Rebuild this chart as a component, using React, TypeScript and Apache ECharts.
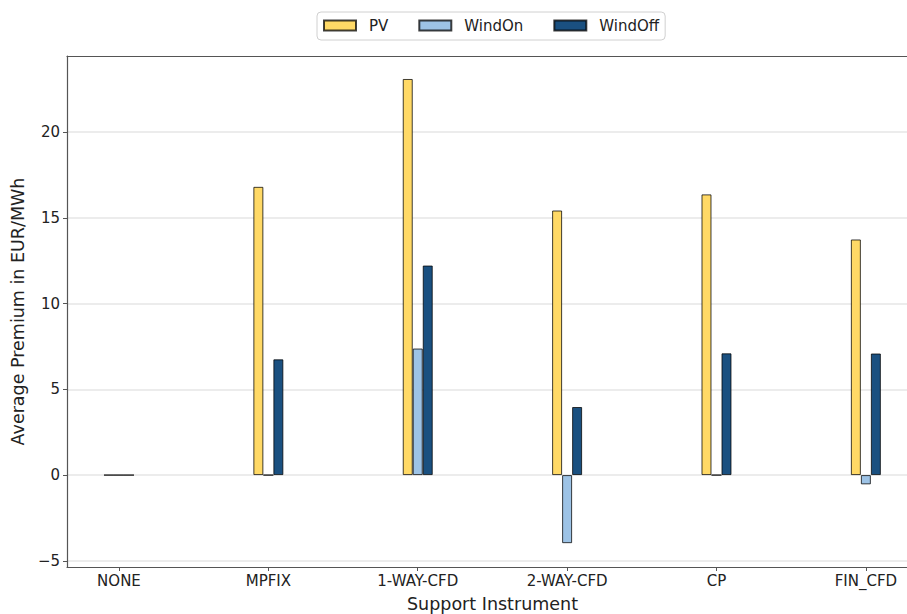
import React, { useEffect, useRef } from "react";
import * as echarts from "echarts";

// Support instruments along the x axis
const categories = ["NONE", "MPFIX", "1-WAY-CFD", "2-WAY-CFD", "CP", "FIN_CFD"];

// Average premium per technology, EUR/MWh
const pvValues = [0, 16.81, 23.1, 15.43, 16.37, 13.74];
const windOnValues = [0, 0, 7.38, -3.97, 0, -0.54];
const windOffValues = [0, 6.75, 12.22, 3.97, 7.1, 7.09];

const yTicks = [-5, 0, 5, 10, 15, 20];

const FONT = "DejaVu Sans";

const toPoints = (vals: number[]) => vals.map((v, i) => [i, v]);

export default function App() {
  const ref = useRef<HTMLDivElement>(null);

  useEffect(() => {
    if (!ref.current) return;
    const chart = echarts.init(ref.current, undefined, { renderer: "svg" });
    const tickIdx = categories.map((_, i) => i);
    const barBorder = { borderColor: "rgba(0,0,0,0.75)", borderWidth: 1 };
    const spine = { show: true, onZero: false, lineStyle: { color: "#555", width: 1.2 } };

    const makeSeries = (name: string, vals: number[], color: string) => ({
      name,
      type: "bar",
      data: toPoints(vals),
      barWidth: 10,
      barGap: "0%",
      itemStyle: { color, ...barBorder },
    });

    chart.setOption({
      animation: false,
      backgroundColor: "#ffffff",
      textStyle: { fontFamily: FONT },
      legend: {
        left: 317,
        top: 12,
        padding: [6, 6, 7, 6],
        itemWidth: 32,
        itemHeight: 10,
        itemGap: 30,
        icon: "rect",
        borderColor: "#d0d0d0",
        borderWidth: 1,
        borderRadius: 4,
        textStyle: {
          fontFamily: FONT,
          fontSize: 15,
          color: "#222",
          padding: [0, 0, 0, 8],
        },
        data: ["PV", "WindOn", "WindOff"],
      },
      grid: {
        left: 67,
        right: -11,
        top: 56,
        bottom: 47,
        outerBoundsMode: "none",
        containLabel: false,
      },
      xAxis: [
        {
          type: "value",
          min: -0.348,
          max: 5.349,
          name: "Support Instrument",
          nameLocation: "middle",
          nameGap: 28,
          nameTextStyle: { fontFamily: FONT, fontSize: 17.5, color: "#222" },
          axisLine: spine,
          axisTick: {
            show: true,
            customValues: tickIdx,
            length: 4,
            lineStyle: { color: "#555" },
          },
          axisLabel: {
            customValues: tickIdx,
            formatter: (v: number) => categories[Math.round(v)] ?? "",
            fontFamily: FONT,
            fontSize: 15,
            color: "#222",
            margin: 6,
          },
          splitLine: { show: false },
        },
        {
          type: "value",
          position: "top",
          min: 0,
          max: 1,
          axisLine: spine,
          axisTick: { show: false },
          axisLabel: { show: false },
          splitLine: { show: false },
        },
      ],
      yAxis: {
        type: "value",
        min: -5.36,
        max: 24.44,
        name: "Average Premium in EUR/MWh",
        nameLocation: "middle",
        nameGap: 38,
        nameTextStyle: { fontFamily: FONT, fontSize: 17.5, color: "#222" },
        axisLine: spine,
        axisTick: {
          show: true,
          customValues: yTicks,
          length: 4,
          lineStyle: { color: "#555" },
        },
        axisLabel: {
          customValues: yTicks,
          formatter: (v: number) => String(v).replace("-", "\u2212"),
          fontFamily: FONT,
          fontSize: 15,
          color: "#222",
          margin: 7,
        },
        splitLine: { show: true, lineStyle: { color: "#e6e6e6", width: 1.5 } },
      },
      series: [
        makeSeries("PV", pvValues, "#FFD966"),
        makeSeries("WindOn", windOnValues, "#9DC3E6"),
        makeSeries("WindOff", windOffValues, "#1A5080"),
      ],
    });
    return () => chart.dispose();
  }, []);

  return (
    <div
      ref={ref}
      style={{ position: "fixed", left: 0, top: 0, width: 907, height: 614 }}
    />
  );
}
